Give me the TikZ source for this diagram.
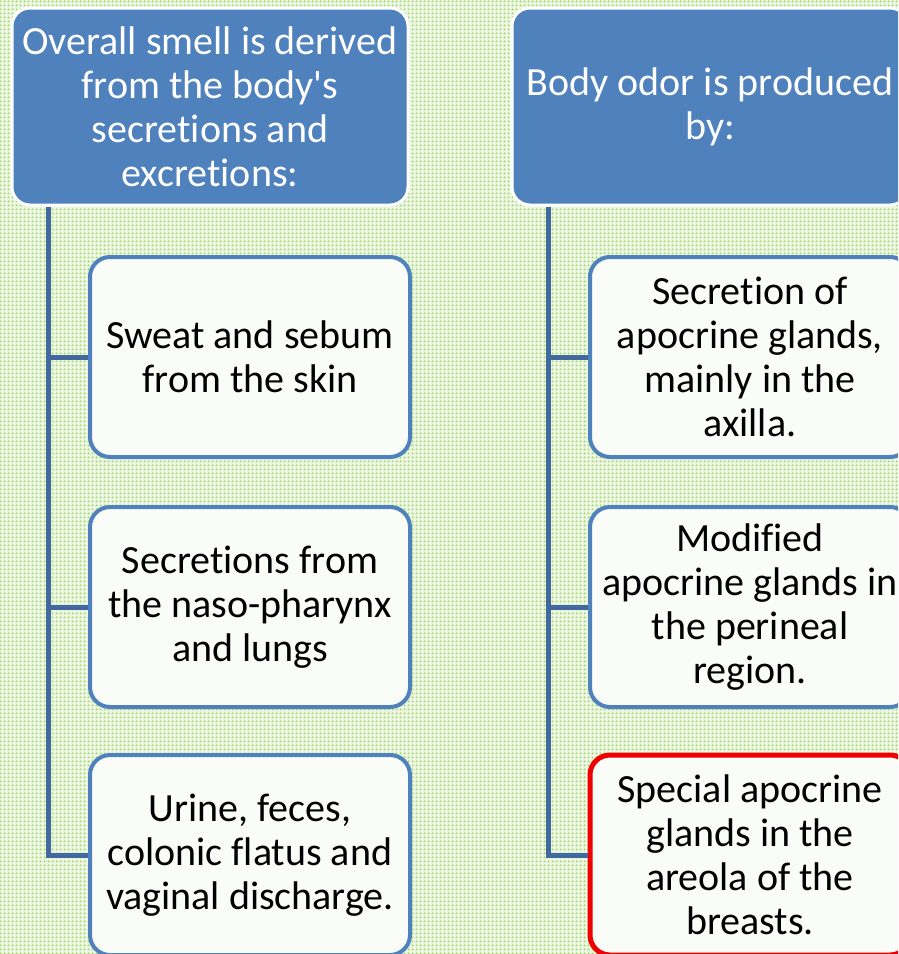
\documentclass[tikz,border=0pt]{standalone}
\usepackage{fontspec}
\newfontfamily\calib{Carlito}[Ligatures=NoCommon]
\usetikzlibrary{patterns.meta}

\definecolor{hdrblue}{RGB}{79,129,189}
\definecolor{trunkblue}{RGB}{66,104,160}
\definecolor{dotgreen}{RGB}{160,215,100}
\definecolor{bgpale}{RGB}{236,246,226}
\definecolor{boxfill}{RGB}{250,252,247}

\tikzdeclarepattern{name=gdots, type=uncolored,
  bounding box={(0,0) and (4pt,4pt)}, tile size={(4pt,4pt)},
  code={\fill (2pt,2pt) circle (1.3pt);}}

\begin{document}
\begin{tikzpicture}[x=1pt,y=-1pt,
  hdr/.style={draw=white,line width=3pt,fill=hdrblue,rounded corners=18pt,
    minimum width=396pt,minimum height=197pt,inner sep=0pt,align=center,
    text=white,font=\calib\fontsize{40}{44}\selectfont},
  item/.style={draw=hdrblue,line width=4pt,fill=boxfill,rounded corners=20pt,
    minimum width=320pt,minimum height=200pt,inner sep=0pt,align=center,
    font=\calib\fontsize{40}{44}\selectfont},
  hot/.style={draw={rgb,255:red,240;green,0;blue,0},line width=5pt},
  trunk/.style={draw=trunkblue,line width=5pt}]
  \useasboundingbox (0,0) rectangle (898,954);
  \clip (0,0) rectangle (898,954);
  \fill[bgpale] (0,0) rectangle (898,954);
  \fill[pattern=gdots,pattern color=dotgreen] (0,0) rectangle (898,954);

  % left column
  \node[hdr] (hdrA) at (210,106.5) {Overall smell is derived\\from the body\char39s\\secretions and\\excretions:};
  \node[item] (srcA) at (250,357) {Sweat and sebum\\from the skin};
  \node[item] (srcB) at (250,607) {Secretions from\\the naso-pharynx\\and lungs};
  \node[item] (srcC) at (250,855) {Urine, feces,\\colonic flatus and\\vaginal discharge.};
  \draw[trunk] ([xshift=38pt]hdrA.south west) |- (srcA.west);
  \draw[trunk] ([xshift=38pt]hdrA.south west) |- (srcB.west);
  \draw[trunk] ([xshift=38pt]hdrA.south west) |- (srcC.west);

  % right column
  \node[hdr] (hdrB) at (710,106.5) {Body odor is produced\\by:};
  \node[item] (glandA) at (750,357) {Secretion of\\apocrine glands,\\mainly in the\\axilla.};
  \node[item] (glandB) at (750,607) {Modified\\apocrine glands in\\the perineal\\region.};
  \node[item,hot] (glandC) at (750,855) {Special apocrine\\glands in the\\areola of the\\breasts.};
  \draw[trunk] ([xshift=38pt]hdrB.south west) |- (glandA.west);
  \draw[trunk] ([xshift=38pt]hdrB.south west) |- (glandB.west);
  \draw[trunk] ([xshift=38pt]hdrB.south west) |- (glandC.west);
\end{tikzpicture}
\end{document}
